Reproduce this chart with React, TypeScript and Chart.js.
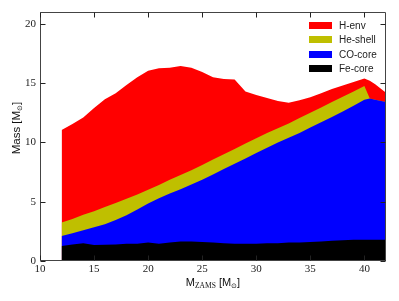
import React, { useEffect, useRef } from "react";
import { Chart, registerables } from "chart.js";

Chart.register(...registerables);

// ZAMS masses (x values)
const masses = [12, 13, 14, 15, 16, 17, 18, 19, 20, 21, 22, 23, 24, 25, 26, 27, 28, 29, 30, 31, 32, 33, 34, 35, 36, 37, 38, 39, 40, 40.5, 41, 42];

// Upper boundary (cumulative mass) of each layer
const hEnvTop = [11.05, 11.55, 12.1, 12.9, 13.65, 14.15, 14.85, 15.5, 16.05, 16.25, 16.3, 16.45, 16.3, 15.95, 15.5, 15.35, 15.3, 14.3, 14.0, 13.75, 13.5, 13.35, 13.55, 13.8, 14.15, 14.5, 14.8, 15.1, 15.4, 15.2, 14.9, 14.2];
const heShellTop = [3.25, 3.55, 3.9, 4.2, 4.55, 4.9, 5.25, 5.6, 6.0, 6.4, 6.85, 7.25, 7.65, 8.1, 8.55, 9.0, 9.45, 9.9, 10.35, 10.8, 11.2, 11.6, 12.05, 12.5, 12.95, 13.4, 13.85, 14.3, 14.75, 13.7, 13.6, 13.4];
const coCoreTop = [2.1, 2.35, 2.6, 2.85, 3.1, 3.45, 3.85, 4.35, 4.85, 5.3, 5.7, 6.05, 6.45, 6.85, 7.3, 7.75, 8.2, 8.65, 9.1, 9.55, 10.0, 10.4, 10.8, 11.25, 11.7, 12.15, 12.6, 13.1, 13.6, 13.7, 13.6, 13.4];
const feCoreTop = [1.27, 1.4, 1.5, 1.35, 1.38, 1.4, 1.45, 1.45, 1.55, 1.45, 1.55, 1.65, 1.65, 1.6, 1.55, 1.5, 1.45, 1.45, 1.45, 1.5, 1.5, 1.55, 1.55, 1.6, 1.65, 1.7, 1.75, 1.8, 1.8, 1.8, 1.8, 1.8];

const seriesNames = ["H-env", "He-shell", "CO-core", "Fe-core"];
const seriesColors = ["#ff0000", "#bfbf00", "#0000ff", "#000000"];
const seriesValues = [hEnvTop, heShellTop, coCoreTop, feCoreTop];

const xTicks = [10, 15, 20, 25, 30, 35, 40];
const yTicks = [0, 5, 10, 15, 20];

const SANS = "'Liberation Sans', Arial, sans-serif";
const SERIF = "'Liberation Serif', 'DejaVu Serif', serif";

const framePlugin = {
  id: "frameTicks",
  afterDatasetsDraw(chart: any) {
    const ctx = chart.ctx;
    const { left, right, top, bottom } = chart.chartArea;
    const xs = chart.scales.x;
    const ys = chart.scales.y;
    const L = Math.round(left) + 0.5;
    const R = Math.round(right) - 0.5;
    const T = Math.round(top) + 0.5;
    const B = Math.round(bottom) - 0.5;
    ctx.save();
    ctx.strokeStyle = "#444";
    ctx.lineWidth = 1;
    ctx.beginPath();
    ctx.rect(L, T, R - L, B - T);
    ctx.stroke();
    ctx.strokeStyle = "#222";
    ctx.beginPath();
    for (const v of xTicks) {
      const px = Math.round(xs.getPixelForValue(v)) + 0.5;
      ctx.moveTo(px, B);
      ctx.lineTo(px, B - 5);
      ctx.moveTo(px, T);
      ctx.lineTo(px, T + 5);
    }
    for (const v of yTicks) {
      const py = Math.round(ys.getPixelForValue(v)) + 0.5;
      ctx.moveTo(L, py);
      ctx.lineTo(L + 5, py);
      ctx.moveTo(R, py);
      ctx.lineTo(R - 5, py);
    }
    ctx.stroke();
    ctx.restore();
  },
  afterDraw(chart: any) {
    const ctx = chart.ctx;
    ctx.save();
    // Legend
    const boxX = 309;
    const rowY = [25.3, 39.8, 54.3, 68.8];
    ctx.font = `10px ${SANS}`;
    ctx.textBaseline = "middle";
    ctx.textAlign = "left";
    seriesNames.forEach((name, i) => {
      ctx.fillStyle = seriesColors[i];
      ctx.fillRect(boxX, Math.round(rowY[i] - 3.5), 23, 7);
      ctx.fillStyle = "#222";
      ctx.fillText(name, 339, rowY[i] + 0.5);
    });

    const drawPieces = (pieces: any[], cx: number, baseY: number) => {
      let total = 0;
      for (const p of pieces) {
        ctx.font = p.font;
        total += ctx.measureText(p.t).width;
      }
      let x = cx - total / 2;
      ctx.textAlign = "left";
      ctx.textBaseline = "alphabetic";
      for (const p of pieces) {
        ctx.font = p.font;
        ctx.fillText(p.t, x, baseY + (p.dy || 0));
        x += ctx.measureText(p.t).width;
      }
    };
    ctx.fillStyle = "#111";
    // X axis title: M_ZAMS [M_sun]
    const xPieces = [
      { t: "M", font: `11px ${SANS}` },
      { t: "ZAMS", font: `7.5px ${SERIF}`, dy: 1.5 },
      { t: " [M", font: `11px ${SANS}` },
      { t: "\u2299", font: `7px ${SANS}`, dy: 2 },
      { t: "]", font: `11px ${SANS}` },
    ];
    drawPieces(xPieces, 213, 286);

    // Y axis title
    ctx.save();
    ctx.translate(20, 128);
    ctx.rotate(-Math.PI / 2);
    const yPieces = [
      { t: "Mass [M", font: `11.5px ${SANS}` },
      { t: "\u2299", font: `7px ${SANS}`, dy: 2 },
      { t: "]", font: `11.5px ${SANS}` },
    ];
    drawPieces(yPieces, 0, 0);
    ctx.restore();
    ctx.restore();
  },
};

export default function App() {
  const ref = useRef<HTMLCanvasElement | null>(null);
  useEffect(() => {
    document.body.style.margin = "0";
    const canvas = ref.current;
    if (!canvas) return;
    const datasets = seriesNames.map((name, i) => ({
      label: name,
      data: masses.map((m, j) => ({ x: m, y: seriesValues[i][j] })),
      backgroundColor: seriesColors[i],
      borderColor: seriesColors[i],
      borderWidth: 0,
      pointRadius: 0,
      tension: 0,
      fill: "origin",
      order: seriesNames.length - i,
    }));
    const chart = new Chart(canvas, {
      type: "line",
      data: { datasets },
      options: {
        responsive: false,
        animation: false,
        layout: { padding: { top: 12, right: 13, left: 0, bottom: 0 } },
        plugins: { legend: { display: false }, tooltip: { enabled: false } },
        scales: {
          x: {
            type: "linear",
            min: 10,
            max: 42,
            grid: { display: false, drawTicks: false },
            border: { display: false },
            afterFit: (s: any) => {
              s.height = 40;
            },
            ticks: {
              stepSize: 5,
              includeBounds: false,
              maxRotation: 0,
              autoSkip: false,
              padding: 2,
              color: "#222",
              font: { family: SERIF, size: 11 },
            },
          },
          y: {
            type: "linear",
            min: 0,
            max: 21,
            grid: { display: false, drawTicks: false },
            border: { display: false },
            afterFit: (s: any) => {
              s.width = 40;
            },
            ticks: {
              stepSize: 5,
              includeBounds: false,
              padding: 4,
              color: "#222",
              font: { family: SERIF, size: 11 },
            },
          },
        },
      } as any,
      plugins: [framePlugin],
    });
    return () => chart.destroy();
  }, []);
  return (
    <div style={{ position: "absolute", left: 0, top: 0, width: 399, height: 301 }}>
      <canvas ref={ref} width={399} height={301} style={{ display: "block" }} />
    </div>
  );
}
